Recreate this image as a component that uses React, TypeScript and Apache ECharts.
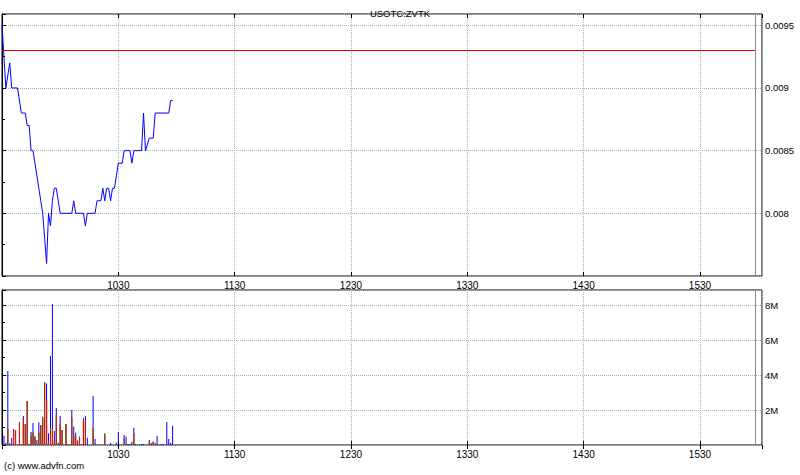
import React, { useEffect, useRef } from "react";
import * as echarts from "echarts";

// ---------- data ----------
const TITLE = "USOTC:ZVTK";
const FOOTER = "(c) www.advfn.com";

// minutes after 09:30
const priceTimes = [0, 2, 4, 5, 8, 10, 12, 13, 14, 15, 16, 17, 18, 19, 20, 21, 22, 23, 24, 25, 26, 27, 28, 29, 30, 36, 37, 38, 42, 43, 44, 48, 49, 51, 52, 53, 54, 55, 56, 57, 58, 59, 60, 62, 63, 66, 67, 68, 72, 73, 74, 76, 78, 79, 86, 87, 88];
const priceValues = [0.0095, 0.009, 0.0092, 0.009, 0.009, 0.0088, 0.0088, 0.0087, 0.0087, 0.0085, 0.0085, 0.0084, 0.0083, 0.0082, 0.0081, 0.008, 0.0078, 0.0076, 0.008, 0.0079, 0.0081, 0.0082, 0.0082, 0.0081, 0.008, 0.008, 0.0081, 0.008, 0.008, 0.0079, 0.008, 0.008, 0.0081, 0.0081, 0.0082, 0.0081, 0.0082, 0.0082, 0.0081, 0.0082, 0.0082, 0.0083, 0.0084, 0.0084, 0.0085, 0.0085, 0.0084, 0.0085, 0.0085, 0.0088, 0.0085, 0.0086, 0.0086, 0.0088, 0.0088, 0.0089, 0.0089];
const previousClose = 0.0093;
const sessionEndMinute = 388.5;

// volume per minute (millions), minute index 0..88
const volRed = [0, 0, 0, 0.95, 0, 0, 0.82, 0.86, 0, 1.24, 0.05, 1.56, 1.2, 2.51, 0.05, 0.51, 0.7, 0.42, 0, 0.7, 1.14, 1.5, 3.58, 2.57, 0.2, 0.9, 0.9, 0.23, 1.71, 0, 1.2, 0.86, 0, 1.2, 0.05, 0, 1.56, 0.51, 0.51, 0.25, 0.38, 0.05, 1.43, 1.43, 0, 0, 0, 0.95, 0, 0, 0, 0, 0, 0.62, 0, 0, 0, 0, 0, 0, 0, 0, 0, 0.38, 0, 0, 0, 0, 0.67, 0, 0, 0, 0, 0, 0, 0, 0.19, 0.1, 0.19, 0.08, 0, 0, 0, 0, 0, 0, 0, 0, 0];
const volGreen = [0, 0, 0, 0, 0, 0, 0, 0, 0, 0, 0, 0, 0, 0, 0, 0.08, 0.05, 0, 0, 0.05, 0, 0.06, 0, 0, 0, 0.05, 0.05, 0, 0, 0, 0.05, 0, 0, 0, 0, 0, 0, 0, 0, 0, 0.05, 0, 0, 0, 0, 0, 0, 0, 0.05, 0, 0, 0, 0, 0.05, 0, 0, 0, 0, 0, 0, 0, 0, 0, 0.05, 0, 0, 0, 0, 0, 0, 0, 0, 0, 0, 0, 0, 0, 0, 0, 0, 0, 0, 0, 0, 0, 0, 0, 0, 0];
const volBlue = [0, 0.53, 0.13, 3.28, 0.1, 0.4, 0.09, 0, 0, 0.08, 0, 0.1, 0, 0, 0, 0.15, 0.51, 0.1, 0.29, 0.55, 0, 0.06, 0, 0.95, 0.47, 4.14, 7.11, 0.57, 0.4, 0.13, 0.41, 0, 0, 0, 0, 0, 0.44, 0.54, 0.19, 0, 0.05, 0, 0.1, 0.23, 0.42, 0, 0, 1.85, 0.29, 0, 0, 0, 0, 0, 0, 0, 0.13, 0, 0, 0.13, 0.74, 0, 0, 0.14, 0.48, 0.06, 0.06, 0.19, 0.32, 0.06, 0, 0, 0.06, 0.06, 0, 0, 0.1, 0, 0, 0, 0.53, 0, 0.06, 0.06, 0, 1.31, 0.34, 0.13, 1.1];
const volMinutes = volRed.map((_, i) => i);

const priceAxisMin = 0.0075;
const priceAxisMax = 0.00959;
const priceInterval = 0.0005;
const volAxisMax = 8.86;
const volInterval = 2;
const timeAxisMax = 392;
const timeInterval = 60;

// ---------- helpers ----------
const FONT = "Liberation Sans, Arial, sans-serif";
const gridColor = "#a3b5b5";

function timeLabel(v: number): string {
  if (v % 60 !== 0) return "";
  const total = 9 * 60 + 30 + v;
  const h = Math.floor(total / 60);
  const m = total % 60;
  return `${h}${m < 10 ? "0" + m : m}`;
}

function xAxes(gridIndex: number) {
  const base = {
    type: "value" as const,
    gridIndex,
    min: 0,
    max: timeAxisMax,
    interval: timeInterval,
    axisLine: { show: false },
  };
  return [
    {
      ...base,
      position: "bottom",
      axisTick: { show: true, inside: true, length: 4, lineStyle: { color: "#000" } },
      axisLabel: {
        show: true,
        showMinLabel: false,
        showMaxLabel: false,
        formatter: timeLabel,
        fontSize: 10,
        fontFamily: FONT,
        color: "#000",
        margin: 4,
      },
      splitLine: { show: true, lineStyle: { color: gridColor, type: [1, 1], width: 1 } },
    },
    {
      ...base,
      position: "top",
      axisTick: { show: true, inside: true, length: 4, lineStyle: { color: "#000" } },
      axisLabel: { show: false },
      splitLine: { show: false },
    },
  ];
}

function yAxes(gridIndex: number, min: number, max: number, interval: number, fmt: (v: number) => string) {
  const base = { type: "value" as const, gridIndex, min, max, interval };
  return [
    {
      ...base,
      position: "right",
      axisLine: { show: true, lineStyle: { color: "#000" } },
      axisTick: { show: true, inside: false, length: 4, lineStyle: { color: "#000" } },
      minorTick: { show: true, splitNumber: 2, length: 3, lineStyle: { color: "#000" } },
      axisLabel: {
        show: true,
        showMinLabel: false,
        showMaxLabel: false,
        formatter: fmt,
        fontSize: 9.5,
        fontFamily: FONT,
        color: "#000",
        margin: 3,
      },
      splitLine: { show: true, lineStyle: { color: gridColor, type: [1, 1], width: 1 } },
    },
    {
      ...base,
      position: "left",
      axisLine: { show: true, lineStyle: { color: "#000" } },
      axisTick: { show: true, inside: true, length: 4, lineStyle: { color: "#000" } },
      minorTick: { show: true, splitNumber: 2, length: 3, lineStyle: { color: "#000" } },
      axisLabel: { show: false },
      splitLine: { show: false },
    },
  ];
}

export default function App() {
  const ref = useRef<HTMLDivElement>(null);

  useEffect(() => {
    if (!ref.current) return;
    const chart = echarts.init(ref.current, undefined, { renderer: "svg" });

    const sessionLine = {
      xAxis: sessionEndMinute,
      lineStyle: { color: "#7f9090", type: "solid", width: 1 },
    };

    // cumulative heights: red at bottom, green above it, blue on top
    const cumRedGreen = volRed.map((r, i) => r + volGreen[i]);
    const cumAll = cumRedGreen.map((s, i) => s + volBlue[i]);

    const barSeries = (name: string, arr: number[], color: string) => ({
      name,
      type: "bar",
      xAxisIndex: 2,
      yAxisIndex: 2,
      barWidth: 1,
      barGap: "-100%",
      itemStyle: { color },
      data: volMinutes.map((t, i) => [t, arr[i]]),
      silent: true,
    });

    chart.setOption({
      animation: false,
      backgroundColor: "#fff",
      title: {
        text: TITLE,
        left: "center",
        top: 3,
        textStyle: { fontSize: 9.5, fontWeight: "normal", fontFamily: FONT, color: "#000" },
      },
      grid: [
        { left: 2, right: 38, top: 14, height: 262, show: true, borderColor: "#000", borderWidth: 1, backgroundColor: "transparent" },
        { left: 2, right: 38, top: 290, height: 155, show: true, borderColor: "#000", borderWidth: 1, backgroundColor: "transparent" },
      ],
      xAxis: [...xAxes(0), ...xAxes(1)],
      yAxis: [
        ...yAxes(0, priceAxisMin, priceAxisMax, priceInterval, (v: number) => String(+v.toFixed(5))),
        ...yAxes(1, 0, volAxisMax, volInterval, (v: number) => (v === 0 ? "" : `${v}M`)),
      ],
      graphic: [
        {
          type: "text",
          left: 4,
          top: 460,
          style: { text: FOOTER, fontSize: 9.5, fontFamily: FONT, fill: "#000" },
        },
      ],
      series: [
        {
          name: "price",
          type: "line",
          xAxisIndex: 0,
          yAxisIndex: 0,
          showSymbol: false,
          symbol: "none",
          lineStyle: { color: "#0000ff", width: 1 },
          data: priceTimes.map((t, i) => [t, priceValues[i]]),
          silent: true,
          markLine: {
            silent: true,
            symbol: "none",
            label: { show: false },
            data: [
              [
                { coord: [0, previousClose], lineStyle: { color: "#e00000", type: "solid", width: 1 } },
                { coord: [sessionEndMinute, previousClose] },
              ],
              sessionLine,
            ],
          },
        },
        {
          ...barSeries("blue", cumAll, "#0000ff"),
          markLine: {
            silent: true,
            symbol: "none",
            label: { show: false },
            data: [sessionLine],
          },
        },
        barSeries("green", cumRedGreen, "#00c000"),
        barSeries("red", volRed, "#ff0000"),
      ],
    });

    return () => chart.dispose();
  }, []);

  return (
    <div
      ref={ref}
      style={{ position: "fixed", left: 0, top: 0, width: 800, height: 475, background: "#fff" }}
    />
  );
}
